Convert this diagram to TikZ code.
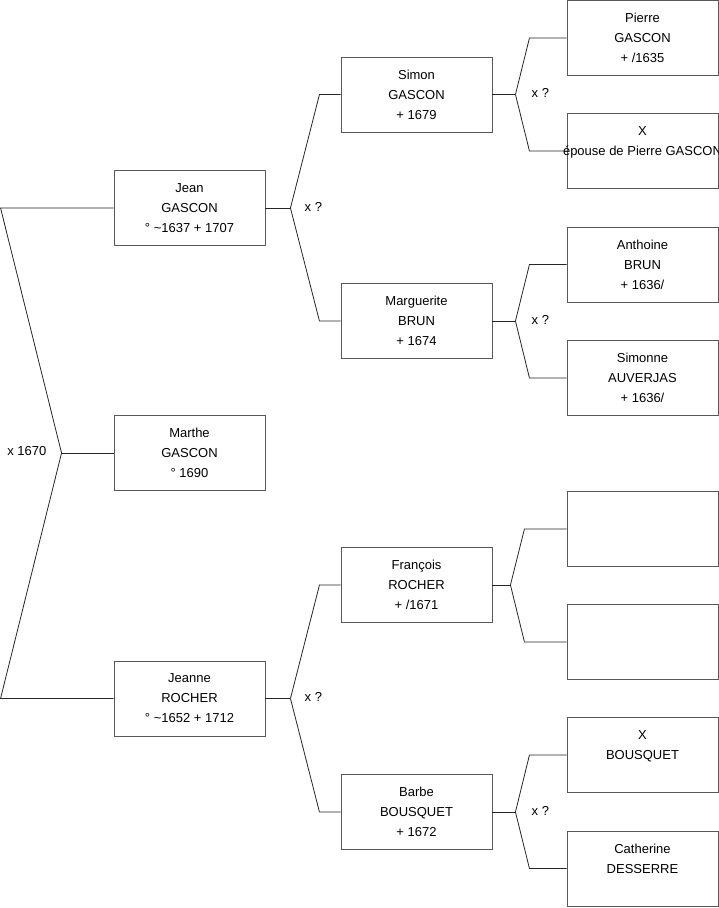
\documentclass[tikz,border=0pt]{standalone}
\usepackage{fontspec}
\setmainfont{Liberation Sans}
\usetikzlibrary{calc}

\begin{document}
\begin{tikzpicture}[x=1pt,y=-1pt,
    person/.style={draw=black!65, line width=0.9pt, fill=white, minimum width=151pt,
      minimum height=75pt, inner sep=0pt, align=center, font=\fontsize{13}{20}\selectfont},
    link/.style={draw=black!85, line width=0.8pt},
    union/.style={inner sep=0pt, font=\fontsize{13}{14}\selectfont}]
                \useasboundingbox (0,0) rectangle (719,908);
                % generation 1 and 2
                \node[person] (marthe) at (189.5,453) {Marthe\\GASCON\\° 1690};
                \node[person] (jean) at (189.5,208) {Jean\\GASCON\\° \textasciitilde1637 + 1707};
                \node[person] (jeanne) at (189.5,698.5) {Jeanne\\ROCHER\\° \textasciitilde1652 + 1712};
                % generation 3
                \node[person] (simon) at (416.5,94.5) {Simon\\GASCON\\+ 1679};
                \node[person] (marguerite) at (416.5,321) {Marguerite\\BRUN\\+ 1674};
                \node[person] (francois) at (416.5,585) {François\\ROCHER\\+ /1671};
                \node[person] (barbe) at (416.5,812) {Barbe\\BOUSQUET\\+ 1672};
                % generation 4
                \node[person] (pierre) at (642.5,38) {Pierre\\GASCON\\+ /1635};
                \node[person] (xepouse) at (642.5,151) {X\\\makebox[151pt]{épouse de Pierre GASCON}\\~};
                \node[person] (anthoine) at (642.5,264.5) {Anthoine\\BRUN\\+ 1636/};
                \node[person] (simonne) at (642.5,378) {Simonne\\AUVERJAS\\+ 1636/};
                \node[person] (inconnu1) at (642.5,529) {};
                \node[person] (inconnu2) at (642.5,642) {};
                \node[person] (xbousquet) at (642.5,755) {X\\BOUSQUET\\~};
                \node[person] (catherine) at (642.5,868.5) {Catherine\\DESSERRE\\~};
                % root fork, drawn to the left
                \draw[link] (marthe.west) -- ++(-52,0) coordinate (marthe-k);
                \draw[link] (marthe-k) -- ($(marthe-k |- jean.west)+(-61,0)$) -- (jean.west);
                \draw[link] (marthe-k) -- ($(marthe-k |- jeanne.west)+(-61,0)$) -- (jeanne.west);
                \node[union, anchor=east] (u-marthe) at ($(marthe-k)+(-15,-1.5)$) {x 1670};
                % other forks
                \foreach \kid/\dad/\mum/\stub/\slant in {jean/simon/marguerite/25/29,
                    jeanne/francois/barbe/25/29, simon/pierre/xepouse/23/14,
                    marguerite/anthoine/simonne/23/14, francois/inconnu1/inconnu2/18/14,
                    barbe/xbousquet/catherine/23/14}{
                  \draw[link] (\kid.east) -- ++(\stub,0) coordinate (\kid-k);
                  \draw[link] (\kid-k) -- ($(\kid-k |- \dad.west)+(\slant,0)$) -- (\dad.west);
                  \draw[link] (\kid-k) -- ($(\kid-k |- \mum.west)+(\slant,0)$) -- (\mum.west);
                }
                \foreach \kid/\gap in {jean/14, jeanne/14, simon/16, marguerite/16, barbe/16}
                  \node[union, anchor=west] (u-\kid) at ($(\kid-k)+(\gap,-1.5)$) {x ?};
            \end{tikzpicture}
\end{document}
